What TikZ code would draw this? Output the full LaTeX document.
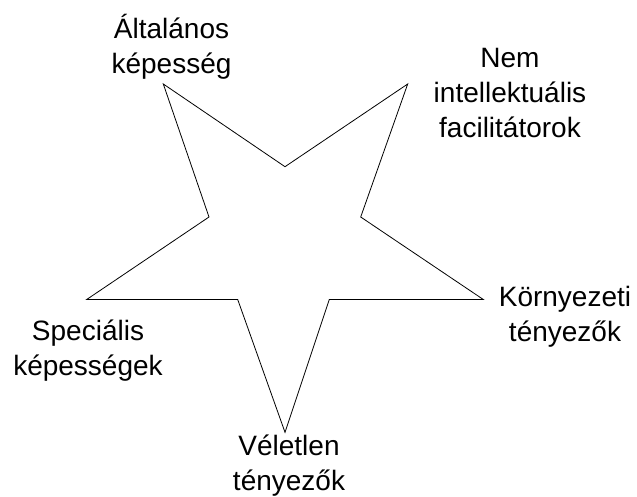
\documentclass[tikz,border=0pt]{standalone}
\usepackage{fontspec}
\setmainfont{Liberation Sans}
\begin{document}
\begin{tikzpicture}[x=1pt,y=-1pt,
  lab/.style={align=center,anchor=base,inner sep=0pt,font=\fontsize{28}{35}\selectfont},
  starline/.style={draw=black,line width=0.8pt,line join=miter}]
\useasboundingbox (0,0) rectangle (637,497);
\coordinate (o1) at (163.3,84);
\coordinate (i1) at (285,166.7);
\coordinate (o2) at (407.7,84);
\coordinate (i2) at (360.7,217);
\coordinate (o3) at (483.3,299.5);
\coordinate (i3) at (329.3,299.5);
\coordinate (o4) at (285,432.3);
\coordinate (i4) at (237.7,299.5);
\coordinate (o5) at (86.7,299.5);
\coordinate (i5) at (209,217);
\draw[starline] (o1) -- (i1) -- (o2) -- (i2) -- (o3) -- (i3) -- (o4) -- (i4) -- (o5) -- (i5) -- cycle;
\node[lab] (altalanos) at (171.5,74) {Általános\\képesség};
\node[lab] (nem) at (510,137.3) {Nem\\intellektuális\\facilitátorok};
\node[lab] (kornyezeti) at (565,341.7) {Környezeti\\tényezők};
\node[lab] (specialis) at (88,375) {Speciális\\képességek};
\node[lab] (veletlen) at (289,490.5) {Véletlen\\tényezők};
\end{tikzpicture}
\end{document}
